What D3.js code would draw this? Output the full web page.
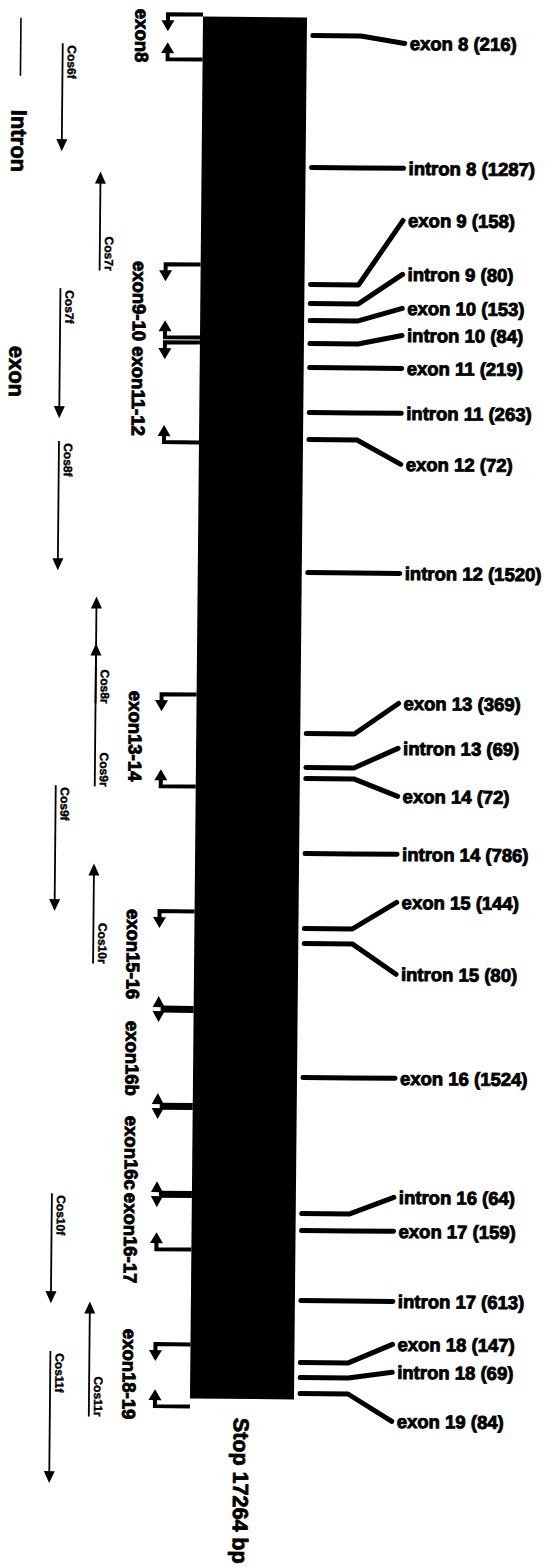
<!DOCTYPE html>
<html>
<head>
<meta charset="utf-8">
<script src="https://cdn.jsdelivr.net/npm/d3@7"></script>
<style>
  body { margin: 0; background: #fff; }
  text { font-family: "Liberation Sans", Arial, sans-serif; font-weight: bold; fill: #000; }
</style>
</head>
<body>
<div id="chart"></div>
<script>
// positions along the gene bar are in track units (0 = top of bar, 1000 = bottom)

// right side: exons / introns with their length in bp
const segNames = ["exon 8", "intron 8", "exon 9", "intron 9", "exon 10", "intron 10", "exon 11",
    "intron 11", "exon 12", "intron 12", "exon 13", "intron 13", "exon 14", "intron 14",
    "exon 15", "intron 15", "exon 16", "intron 16", "exon 17", "intron 17", "exon 18",
    "intron 18", "exon 19"];
const segSizes = [216, 1287, 158, 80, 153, 84, 219, 263, 72, 1520, 369, 69, 72, 786,
    144, 80, 1524, 64, 159, 613, 147, 69, 84];
const segAnchor = [13.0, 108.5, 193.2, 206.9, 219.2, 235.9, 253.3, 285.8, 305.4, 401.6,
    518.1, 542.7, 550.6, 604.9, 659.2, 670.0, 767.0, 865.4, 877.7, 928.4, 973.2, 984.1, 995.7];
const segLabelAt = [18.1, 108.5, 146.2, 185.2, 209.8, 229.4, 253.3, 285.8, 322.7, 401.6,
    495.7, 528.2, 563.0, 604.9, 639.7, 691.7, 767.0, 853.1, 877.7, 928.4, 959.5, 979.7, 1015.2];

// left side: amplified exon groups
const groupNames = ["exon8", "exon9-10 exon11-12", "exon13-14", "exon15-16", "exon16b",
    "exon16c", "exon16-17", "exon18-19"];
const groupStart = [-5.1, 177.3, 488.4, 646.2, 727.2, 795.9, 851.7, 950.1];
const bracketAt = [-1.4, 31.1, 179.5, 232.3, 235.9, 308.2, 490.6, 557.2, 647.6, 718.5,
    788.7, 852.4, 892.2, 960.9, 1005.8];
const bracketType = ["down", "up", "down", "up", "down", "up", "down", "up", "down",
    "both", "both", "both", "up", "down", "up"];

// primers (tail -> arrow tip)
const primerNames = ["Cos6f", "Cos7r", "Cos7f", "Cos8f", "Cos8r", "Cos9r", "Cos9f",
    "Cos10r", "Cos10f", "Cos11r", "Cos11f"];
const primerFrom = [20.3, 184.5, 197.5, 308.2, 497.8, 557.9, 557.2, 686.0, 852.4, 1013.7, 966.7];
const primerTo = [98.4, 112.9, 291.6, 401.6, 420.4, 454.4, 648.3, 613.6, 932.0, 930.5, 1062.2];

const stopBp = 17264;

geneMap();

function geneMap() {

    let width = 552, height = 1568;

    let svg = d3.select("#chart").append("svg")
        .attr("width", width)
        .attr("height", height);

    // the scanned figure is tilted a little
    let g = svg.append("g")
        .attr("transform", "rotate(0.54,255,17)");

    let y = d3.scaleLinear()
        .domain([0, 1000])
        .range([17, 1399]);

    let barLeft = 203, barRight = 307;

    // triangle pointing up (dir -1) or down (dir 1) with tip at (x, ty)
    function tri(x, ty, dir, w, l) {
        return "M" + x + "," + ty +
            "L" + (x - w / 2) + "," + (ty - dir * l) +
            "L" + (x + w / 2) + "," + (ty - dir * l) + "Z";
    }

    // gene bar
    g.append("rect")
        .attr("x", barLeft)
        .attr("y", y(0))
        .attr("width", barRight - barLeft)
        .attr("height", y(1000) - y(0))
        .attr("fill", "#000");

    // right connectors
    let segs = segNames.map((d, i) => ({ name: d, size: segSizes[i], a: segAnchor[i], l: segLabelAt[i] }));

    g.selectAll(".seg")
        .data(segs)
        .enter()
        .append("path")
        .attr("class", "seg")
        .attr("d", d => "M313," + y(d.a) + "L361," + y(d.a) + "L405," + y(d.l))
        .attr("fill", "none")
        .attr("stroke", "#000")
        .attr("stroke-width", 5)
        .attr("stroke-linecap", "round")
        .attr("stroke-linejoin", "round");

    g.selectAll(".segLabel")
        .data(segs)
        .enter()
        .append("text")
        .attr("class", "segLabel")
        .attr("x", 410)
        .attr("y", d => y(d.l))
        .attr("dominant-baseline", "central")
        .style("font-size", "18.5px")
        .attr("stroke", "#000")
        .attr("stroke-width", 0.9)
        .text(d => d.name + " (" + d.size + ")");

    // left brackets
    let hx = 168;
    let brackets = bracketAt.map((d, i) => ({ at: d, type: bracketType[i] }));

    brackets.forEach(b => {
        let by = y(b.at);
        if (b.type == "both") {
            g.append("path")
                .attr("d", "M" + barLeft + "," + by + "H" + (hx + 2))
                .attr("stroke", "#000")
                .attr("stroke-width", 7);
            g.append("path").attr("d", tri(hx, by - 13, -1, 12, 11)).attr("fill", "#000");
            g.append("path").attr("d", tri(hx, by + 13, 1, 12, 11)).attr("fill", "#000");
        } else {
            let dir = b.type == "down" ? 1 : -1;
            g.append("path")
                .attr("d", "M" + barLeft + "," + by + "H" + hx + "V" + (by + dir * 8))
                .attr("fill", "none")
                .attr("stroke", "#000")
                .attr("stroke-width", 4);
            g.append("path").attr("d", tri(hx, by + dir * 17, dir, 13, 11)).attr("fill", "#000");
        }
    });

    g.selectAll(".groupLabel")
        .data(groupNames)
        .enter()
        .append("text")
        .attr("class", "groupLabel")
        .attr("transform", (d, i) => "translate(142," + y(groupStart[i]) + ") rotate(90)")
        .attr("dominant-baseline", "central")
        .style("font-size", "18.5px")
        .attr("stroke", "#000")
        .attr("stroke-width", 0.9)
        .text(d => d);

    // primers
    let primers = primerNames.map((d, i) => ({
        name: d, from: primerFrom[i], to: primerTo[i],
        x: d.endsWith("f") ? 63 : 102
    }));

    g.selectAll(".primer")
        .data(primers)
        .enter()
        .append("line")
        .attr("class", "primer")
        .attr("x1", d => d.x)
        .attr("x2", d => d.x)
        .attr("y1", d => y(d.from))
        .attr("y2", d => y(d.to) + (d.to > d.from ? -8 : 8))
        .attr("stroke", "#000")
        .attr("stroke-width", 1.8);

    g.selectAll(".primerHead")
        .data(primers)
        .enter()
        .append("path")
        .attr("class", "primerHead")
        .attr("d", d => tri(d.x, y(d.to), d.to > d.from ? 1 : -1, 11, 12))
        .attr("fill", "#000");

    g.selectAll(".primerLabel")
        .data(primers)
        .enter()
        .append("text")
        .attr("class", "primerLabel")
        .attr("transform", d => "translate(" + (d.x + 9) + "," + (y(d.from) + (d.to > d.from ? 2 : 0)) + ") rotate(90)")
        .attr("text-anchor", d => d.to > d.from ? "start" : "end")
        .attr("dominant-baseline", "central")
        .style("font-size", "12px")
        .attr("stroke", "#000")
        .attr("stroke-width", 0.4)
        .text(d => d.name);

    // legend
    g.append("line")
        .attr("x1", 21).attr("x2", 21)
        .attr("y1", 20).attr("y2", 78)
        .attr("stroke", "#000")
        .attr("stroke-width", 1.6);

    g.append("text")
        .attr("transform", "translate(20,112) rotate(90)")
        .attr("dominant-baseline", "central")
        .style("font-size", "22px")
        .attr("stroke", "#000")
        .attr("stroke-width", 0.8)
        .text("Intron");

    g.append("text")
        .attr("transform", "translate(20,348) rotate(90)")
        .attr("dominant-baseline", "central")
        .style("font-size", "22px")
        .attr("stroke", "#000")
        .attr("stroke-width", 0.8)
        .text("exon");

    // stop position
    g.append("text")
        .attr("transform", "translate(254,1418) rotate(90)")
        .attr("dominant-baseline", "central")
        .style("font-size", "21.5px")
        .attr("stroke", "#000")
        .attr("stroke-width", 0.8)
        .text("Stop " + stopBp + " bp");
}
</script>
</body>
</html>
